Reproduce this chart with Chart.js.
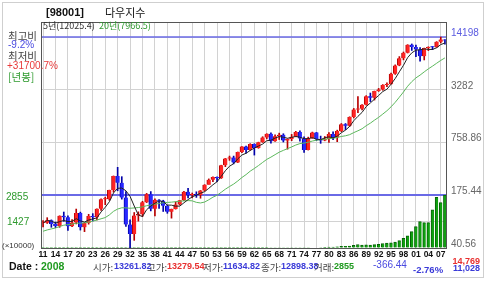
<!DOCTYPE html>
<html>
<head>
<meta charset="utf-8">
<script src="https://cdn.jsdelivr.net/npm/chart.js@4.4.1/dist/chart.umd.min.js"></script>
<style>
  html, body { margin: 0; padding: 0; background: #fff; }
  canvas { display: block; }
</style>
</head>
<body>
<canvas id="dow-chart" width="487" height="283"></canvas>
<script>
// yearly candles, 1911 - 2008
var years = [1911,1912,1913,1914,1915,1916,1917,1918,1919,1920,
	1921,1922,1923,1924,1925,1926,1927,1928,1929,1930,
	1931,1932,1933,1934,1935,1936,1937,1938,1939,1940,
	1941,1942,1943,1944,1945,1946,1947,1948,1949,1950,
	1951,1952,1953,1954,1955,1956,1957,1958,1959,1960,
	1961,1962,1963,1964,1965,1966,1967,1968,1969,1970,
	1971,1972,1973,1974,1975,1976,1977,1978,1979,1980,
	1981,1982,1983,1984,1985,1986,1987,1988,1989,1990,
	1991,1992,1993,1994,1995,1996,1997,1998,1999,2000,
	2001,2002,2003,2004,2005,2006,2007,2008];

var opens = [81.36,81.68,87.87,78.78,74.70,99.15,95.00,74.38,82.20,107.23,
	71.95,81.10,98.73,95.52,120.51,156.66,157.20,202.40,300.00,248.48,
	164.58,77.90,59.93,99.90,104.04,144.13,179.90,120.85,154.76,150.24,
	131.13,110.96,119.40,135.89,152.32,192.91,177.20,181.16,177.30,200.13,
	235.41,269.23,291.90,280.90,404.39,488.40,499.47,435.69,583.65,679.36,
	615.89,731.14,652.10,762.95,874.13,969.26,785.69,905.11,943.75,800.36,
	838.92,890.20,1020.02,850.86,616.24,852.41,1004.65,831.17,805.01,838.74,
	963.99,875.00,1046.54,1258.64,1211.57,1546.67,1895.95,1938.83,2168.57,2753.20,
	2633.66,3168.83,3301.11,3754.09,3834.44,5117.12,6448.27,7908.25,9181.43,11497.12,
	10786.85,10021.50,8341.63,10453.92,10783.01,10717.50,12463.15,13261.82];

var highs = [87.06,94.15,88.57,83.43,99.21,110.15,99.18,89.07,119.62,109.88,
	81.50,103.43,105.38,120.51,159.39,166.64,202.40,300.00,381.17,294.07,
	194.36,88.78,108.67,110.74,148.44,184.90,194.40,158.41,155.92,152.80,
	133.59,119.71,145.82,152.53,195.82,212.50,186.85,193.16,200.52,235.47,
	276.37,292.00,293.79,404.39,488.40,521.05,520.77,583.65,679.36,685.47,
	734.91,734.00,767.21,891.71,969.26,995.15,943.08,985.21,968.85,842.00,
	950.82,1036.27,1051.70,891.66,881.81,1014.79,1005.00,907.74,897.61,1000.17,
	1024.05,1070.55,1287.20,1286.64,1553.10,1955.57,2722.42,2183.50,2791.41,2999.75,
	3168.83,3413.21,3794.33,3978.36,5216.47,6560.91,8259.31,9374.27,11497.12,11722.98,
	11337.92,10635.25,10453.92,10854.54,10940.55,12510.57,14198.10,13279.54];

var lows = [72.94,80.15,72.11,71.42,72.00,84.96,65.95,73.38,79.15,66.75,
	63.90,78.59,85.76,88.33,115.00,135.20,152.73,191.33,198.69,157.51,
	73.79,40.56,50.16,85.51,96.71,143.11,113.64,98.95,121.44,111.84,
	106.34,92.92,119.26,134.22,151.35,163.12,163.21,165.39,161.60,196.81,
	238.99,256.35,255.49,279.87,388.20,462.35,419.79,435.00,574.46,566.05,
	610.25,535.76,646.79,762.00,840.59,744.32,785.00,825.13,769.93,631.16,
	797.97,889.15,788.31,577.60,616.00,852.00,800.85,742.12,796.67,759.13,
	824.01,776.92,1027.04,1086.57,1184.96,1502.29,1738.74,1879.14,2144.64,2365.10,
	2470.30,3136.58,3241.95,3593.35,3832.08,5032.94,6391.69,7539.07,9120.67,9796.03,
	8235.81,7286.27,7524.06,9749.99,10012.36,10667.39,12050.41,11634.82];

var closes = [81.68,87.87,78.78,74.70,99.15,95.00,74.38,82.20,107.23,71.95,
	81.10,98.73,95.52,120.51,156.66,157.20,202.40,300.00,248.48,164.58,
	77.90,59.93,99.90,104.04,144.13,179.90,120.85,154.76,150.24,131.13,
	110.96,119.40,135.89,152.32,192.91,177.20,181.16,177.30,200.13,235.41,
	269.23,291.90,280.90,404.39,488.40,499.47,435.69,583.65,679.36,615.89,
	731.14,652.10,762.95,874.13,969.26,785.69,905.11,943.75,800.36,838.92,
	890.20,1020.02,850.86,616.24,852.41,1004.65,831.17,805.01,838.74,963.99,
	875.00,1046.54,1258.64,1211.57,1546.67,1895.95,1938.83,2168.57,2753.20,2633.66,
	3168.83,3301.11,3754.09,3834.44,5117.12,6448.27,7908.25,9181.43,11497.12,10786.85,
	10021.50,8341.63,10453.92,10783.01,10717.50,12463.15,13264.82,12898.38];

// 5 year average (black) and 20 year average (green)
var ma5 = [81.4,87.2,85.7,80.9,84.4,87.1,84.4,85.1,91.6,86.2,
	83.4,88.2,90.9,93.6,110.5,125.7,146.5,187.4,212.9,214.5,
	198.7,170.2,130.2,101.3,97.2,117.6,129.8,140.7,150.0,147.4,
	133.6,133.3,129.5,129.9,142.3,155.5,167.9,176.2,185.7,194.2,
	212.6,234.8,255.5,296.4,347.0,393.0,421.8,482.3,537.3,562.8,
	609.1,652.4,688.3,727.2,797.9,808.8,859.4,895.6,880.8,854.8,
	875.7,898.7,880.1,843.2,845.9,868.8,831.1,821.9,866.4,888.7,
	862.8,905.9,996.6,1071.1,1187.7,1391.9,1570.3,1752.3,2060.6,2278.0,
	2532.6,2805.1,3122.2,3338.4,3835.1,4491.0,5412.4,6497.9,8030.4,9164.4,
	9879.0,9965.7,10220.2,10077.4,10063.5,10551.8,11536.5,12025.4];

var ma20 = [64.6,67.0,68.9,70.7,73.6,76.4,77.6,78.7,80.8,80.8,
	81.6,83.4,85.7,88.2,91.3,94.4,101.6,112.3,119.7,123.9,
	123.7,122.3,123.4,124.8,127.1,131.3,133.7,137.3,139.4,142.4,
	143.9,144.9,146.9,148.5,150.3,151.3,150.3,144.1,141.7,145.3,
	154.8,166.4,175.5,190.5,207.7,223.7,239.4,260.9,287.3,311.6,
	342.6,369.2,400.6,436.7,475.5,505.9,542.1,580.4,610.4,640.6,
	671.7,708.1,736.6,747.2,765.4,790.6,810.4,821.5,829.4,846.8,
	854.0,873.8,898.5,915.4,944.3,999.8,1051.5,1112.7,1210.4,1300.1,
	1414.0,1528.1,1673.2,1834.2,2047.4,2319.6,2673.4,3092.2,3625.2,4116.3,
	4573.6,4938.4,5398.2,5876.7,6335.3,6863.6,7429.9,7966.4];

// volume, x10000
var volumes = [0.4,0.4,0.3,0.2,0.6,0.8,0.6,0.5,1.0,0.8,
	0.6,0.9,0.8,0.9,1.5,1.5,1.9,3.0,3.7,2.8,
	2.1,1.4,2.1,1.1,1.3,1.7,1.4,1.0,0.9,0.8,
	0.6,0.5,0.9,0.9,1.4,1.4,0.9,1.1,0.9,2.0,
	1.7,1.3,1.4,2.3,2.6,2.2,2.2,3.0,3.2,3.0,
	4.1,3.8,4.6,4.9,6.2,7.5,10.1,13.0,11.4,11.6,
	15.4,16.5,16.1,13.9,18.6,21.2,21.0,28.6,32.2,44.9,
	46.9,65.1,85.3,91.2,109.2,141.0,188.9,161.5,165.5,156.8,
	178.9,202.3,240.0,260.0,280.0,320.0,400.0,520.0,650.0,880.0,
	1150.0,1420.0,1370.0,1370.0,2050.0,2730.0,2440.0,2855.0];

var priceTicks = [40.56, 175.44, 758.86, 3282, 14198];
var volumeTicks = [0, 1427, 2855];
var maxHigh = 14198;
var lastVolume = 2855;

var UP = '#ff2424', UP_LINE = '#b80000';
var DOWN = '#2828ff', DOWN_LINE = '#0000a8';
var isUp = closes.map(function (c, i) { return c >= opens[i]; });

var KR = '"Noto Sans CJK KR", "Noto Sans", sans-serif';
var NUM = '"Liberation Sans", Arial, sans-serif';

function txt(ctx, s, x, y, font, color, align) {
	ctx.font = font;
	ctx.fillStyle = color;
	ctx.textAlign = align || 'left';
	ctx.textBaseline = 'middle';
	ctx.fillText(s, x, y);
}

var decor = {
	id: 'decor',
	beforeDatasetsDraw: function (chart) {
		var ctx = chart.ctx, a = chart.chartArea;
		var yp = chart.scales.y.getPixelForValue(maxHigh);
		var yv = chart.scales.yv.getPixelForValue(lastVolume);
		ctx.save();
		ctx.strokeStyle = '#6a6ae6';
		ctx.lineWidth = 1.5;
		ctx.beginPath();
		ctx.moveTo(a.left, yp); ctx.lineTo(a.right, yp);
		ctx.stroke();
		ctx.lineWidth = 2;
		ctx.beginPath();
		ctx.moveTo(a.left, yv); ctx.lineTo(a.right, yv);
		ctx.stroke();
		ctx.restore();
	},
	afterDraw: function (chart) {
		var ctx = chart.ctx, a = chart.chartArea;
		var sv = chart.scales.yv;
		ctx.save();
		// outer box + plot frame
		ctx.strokeStyle = '#cfcfcf';
		ctx.lineWidth = 1;
		ctx.strokeRect(2.5, 2.5, 481, 275);
		ctx.strokeStyle = '#555';
		ctx.strokeRect(Math.round(a.left) + 0.5, Math.round(a.top) + 0.5,
			Math.round(a.right - a.left) - 1, Math.round(a.bottom - a.top));

		// header
		txt(ctx, '[98001]', 46, 13, 'bold 11px ' + NUM, '#111');
		txt(ctx, '다우지수', 105, 13, '11px ' + KR, '#111');
		txt(ctx, '5년(12025.4)', 43, 26, '9px ' + KR, '#333');
		txt(ctx, '20년(7966.5)', 99, 26, '9px ' + KR, '#2e9a2e');

		// left side info
		txt(ctx, '최고비', 8, 36, '10.5px ' + KR, '#444');
		txt(ctx, '-9.2%', 8, 45, '10px ' + NUM, '#4a4ae0');
		txt(ctx, '최저비', 8, 56, '10.5px ' + KR, '#444');
		txt(ctx, '+31700.7%', 7, 66, '10px ' + NUM, '#e83a3a');
		txt(ctx, '[년봉]', 8, 77, '10.5px ' + KR, '#2e9a2e');

		// volume labels
		txt(ctx, '2855', 6, sv.getPixelForValue(2855) + 2, '10px ' + NUM, '#2e9a2e');
		txt(ctx, '1427', 7, sv.getPixelForValue(1427) + 1, '10px ' + NUM, '#2e9a2e');
		txt(ctx, '(×10000)', 2, sv.getPixelForValue(0) - 2, '8px ' + NUM, '#333');

		// bottom info line
		var by = 267;
		txt(ctx, 'Date :', 9, by, 'bold 10.5px ' + NUM, '#111');
		txt(ctx, '2008', 41, by, 'bold 10.5px ' + NUM, '#1f9a1f');
		txt(ctx, '시가:', 93, by, '9.5px ' + KR, '#444');
		txt(ctx, '13261.82', 114, by, 'bold 9px ' + NUM, '#3a3ad8');
		txt(ctx, '고가:', 147, by, '9.5px ' + KR, '#444');
		txt(ctx, '13279.54', 167, by, 'bold 9px ' + NUM, '#e83030');
		txt(ctx, '저가:', 203, by, '9.5px ' + KR, '#444');
		txt(ctx, '11634.82', 223, by, 'bold 9px ' + NUM, '#3a3ad8');
		txt(ctx, '종가:', 261, by, '9.5px ' + KR, '#444');
		txt(ctx, '12898.38', 281, by, 'bold 9px ' + NUM, '#3a3ad8');
		txt(ctx, '거래:', 314, by, '9.5px ' + KR, '#444');
		txt(ctx, '2855', 334, by, 'bold 9px ' + NUM, '#1f9a1f');
		txt(ctx, '-366.44', 373, by - 2, '10px ' + NUM, '#4a4ae0');
		txt(ctx, '-2.76%', 413, by + 3, 'bold 9.5px ' + NUM, '#3a3ad8');
		txt(ctx, '14,769', 480, 262, 'bold 9px ' + NUM, '#e83030', 'right');
		txt(ctx, '11,028', 480, 269, 'bold 9px ' + NUM, '#3a3ad8', 'right');
		ctx.restore();
	}
};

var chart = new Chart(document.getElementById('dow-chart'), {
	type: 'bar',
	data: {
		labels: years,
		datasets: [
			{
				label: '5년',
				type: 'line',
				data: ma5,
				yAxisID: 'y',
				borderColor: '#222',
				borderWidth: 1,
				pointRadius: 0,
				order: 1
			},
			{
				label: '20년',
				type: 'line',
				data: ma20,
				yAxisID: 'y',
				borderColor: '#5cb85c',
				borderWidth: 1,
				pointRadius: 0,
				order: 2
			},
			{
				label: 'body',
				data: opens.map(function (o, i) { return [o, closes[i]]; }),
				yAxisID: 'y',
				grouped: false,
				barThickness: 4,
				minBarLength: 1,
				backgroundColor: isUp.map(function (u) { return u ? UP : DOWN; }),
				borderColor: isUp.map(function (u) { return u ? UP_LINE : DOWN_LINE; }),
				borderWidth: { left: 1, right: 0, top: 0, bottom: 0 },
				borderSkipped: false,
				order: 3
			},
			{
				label: 'wick',
				data: lows.map(function (l, i) { return [l, highs[i]]; }),
				yAxisID: 'y',
				grouped: false,
				barThickness: 1,
				backgroundColor: isUp.map(function (u) { return u ? UP_LINE : DOWN_LINE; }),
				borderWidth: 0,
				order: 4
			},
			{
				label: '거래',
				data: volumes,
				yAxisID: 'yv',
				grouped: false,
				barThickness: 3,
				backgroundColor: '#10a010',
				borderColor: '#066006',
				borderWidth: { top: 1, left: 1, right: 0, bottom: 0 },
				order: 5
			}
		]
	},
	options: {
		responsive: false,
		animation: false,
		layout: { padding: { top: 22, left: 0, right: 0, bottom: 0 } },
		plugins: {
			legend: { display: false },
			tooltip: { enabled: false }
		},
		scales: {
			x: {
				type: 'category',
				offset: true,
				border: { display: false },
				grid: {
					offset: false,
					drawTicks: false,
					color: function (c) { return c.index % 3 === 0 ? '#d2d2d2' : 'rgba(0,0,0,0)'; }
				},
				ticks: {
					autoSkip: false,
					maxRotation: 0,
					padding: 2,
					color: '#111',
					font: { family: NUM, size: 8.5, weight: 'bold' },
					callback: function (v, i) { return i % 3 === 0 ? String(years[i]).slice(2) : ''; }
				},
				afterFit: function (s) { s.height = 35; }
			},
			y: {
				type: 'logarithmic',
				position: 'right',
				min: 40.56,
				max: 21580,
				border: { display: false },
				grid: { drawTicks: false, color: '#d2d2d2' },
				afterBuildTicks: function (s) {
					s.ticks = priceTicks.map(function (v) { return { value: v }; });
				},
				ticks: {
					padding: 4,
					labelOffset: -4,
					font: { family: NUM, size: 10 },
					color: function (c) { return c.tick && c.tick.value === maxHigh ? '#5a5ae0' : '#666'; },
					callback: function (v) { return String(v); }
				},
				afterFit: function (s) { s.width = 40; }
			},
			yv: {
				type: 'linear',
				position: 'left',
				min: 0,
				max: 12170,
				border: { display: false },
				grid: {
					drawTicks: false,
					color: function (c) { return c.tick && c.tick.value === 1427 ? '#d2d2d2' : 'rgba(0,0,0,0)'; }
				},
				afterBuildTicks: function (s) {
					s.ticks = volumeTicks.map(function (v) { return { value: v }; });
				},
				ticks: { display: false },
				afterFit: function (s) { s.width = 41; }
			}
		}
	},
	plugins: [decor]
});
</script>
</body>
</html>
